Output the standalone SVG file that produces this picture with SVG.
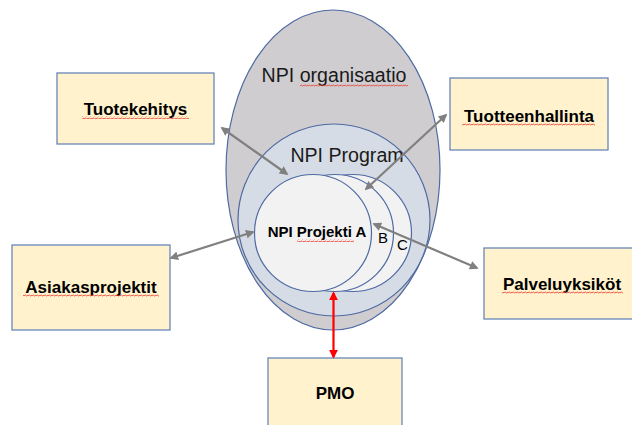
<svg xmlns="http://www.w3.org/2000/svg" width="632" height="425" viewBox="0 0 632 425">
  <defs>
    <style>
      .box { fill: #fff2cc; stroke: #6a86b8; stroke-width: 1.3; }
      .boxlabel { font-family: "Liberation Sans", Arial, sans-serif; font-weight: bold; font-size: 17px; fill: #000; text-anchor: middle; }
      .ring { stroke: #4e6aa3; stroke-width: 1.2; }
      .big { font-family: "Liberation Sans", Arial, sans-serif; font-size: 19.6px; fill: #1a1a1a; text-anchor: middle; }
      .small { font-family: "Liberation Sans", Arial, sans-serif; font-size: 15px; fill: #000; }
      .link { stroke: #808080; stroke-width: 2.2; fill: none; marker-start: url(#ahGray); marker-end: url(#ahGray); }
      .pmo { stroke: #ff0000; stroke-width: 2.2; fill: none; marker-start: url(#ahRed); marker-end: url(#ahRed); }
    </style>
    <marker id="ahGray" viewBox="0 0 10 10" refX="8" refY="5" markerWidth="4.2" markerHeight="4" orient="auto-start-reverse" markerUnits="strokeWidth">
      <path d="M0 0 L10 5 L0 10 z" fill="#808080"/>
    </marker>
    <marker id="ahRed" viewBox="0 0 10 10" refX="8" refY="5" markerWidth="4.2" markerHeight="4" orient="auto-start-reverse" markerUnits="strokeWidth">
      <path d="M0 0 L10 5 L0 10 z" fill="#ff0000"/>
    </marker>
    <!-- spell-check style wavy underline -->
    <pattern id="squiggle" width="4" height="3" patternUnits="userSpaceOnUse">
      <path d="M0 2.2 L1 0.8 L3 2.2 L4 0.8" fill="none" stroke="#e8453c" stroke-width="0.8"/>
    </pattern>
  </defs>

  <rect width="632" height="425" fill="#ffffff"/>

  <!-- organisation -->
  <g id="organisaatio">
    <ellipse cx="333" cy="170" rx="107" ry="160" fill="#d0cdd0" class="ring"/>
    <text class="big" x="334" y="82">NPI organisaatio</text>
    <rect x="300" y="84" width="108" height="3" fill="url(#squiggle)"/>
  </g>

  <!-- program -->
  <g id="program">
    <circle cx="334" cy="220" r="96" fill="#d6dce5" class="ring"/>
    <text class="big" x="347" y="162">NPI Program</text>
  </g>

  <!-- projects C, B, A -->
  <g id="projekti-c">
    <circle cx="353" cy="233" r="58.5" fill="#f2f2f2" class="ring"/>
    <text class="small" x="397" y="250">C</text>
  </g>
  <g id="projekti-b">
    <circle cx="335" cy="233" r="58.5" fill="#f2f2f2" class="ring"/>
    <text class="small" x="378" y="243">B</text>
  </g>
  <g id="projekti-a">
    <circle cx="313" cy="233" r="58.5" fill="#f2f2f2" class="ring"/>
    <text class="small" x="317" y="237" font-weight="bold" text-anchor="middle" font-size="14.5px">NPI Projekti A</text>
    <rect x="297" y="239" width="57" height="3" fill="url(#squiggle)"/>
  </g>

  <!-- surrounding units -->
  <g id="tuotekehitys">
    <rect class="box" x="57" y="73" width="157" height="71"/>
    <text class="boxlabel" x="135.5" y="115">Tuotekehitys</text>
    <rect x="82" y="116" width="107" height="3" fill="url(#squiggle)"/>
  </g>
  <g id="tuotteenhallinta">
    <rect class="box" x="450" y="78" width="158" height="72"/>
    <text class="boxlabel" x="529" y="122">Tuotteenhallinta</text>
    <rect x="462" y="123" width="133" height="3" fill="url(#squiggle)"/>
  </g>
  <g id="asiakasprojektit">
    <rect class="box" x="12" y="245" width="158" height="85"/>
    <text class="boxlabel" x="91" y="293">Asiakasprojektit</text>
    <rect x="23" y="294" width="136" height="3" fill="url(#squiggle)"/>
  </g>
  <g id="palveluyksikot">
    <rect class="box" x="484" y="248" width="150" height="71"/>
    <text class="boxlabel" x="562" y="290">Palveluyksiköt</text>
    <rect x="502" y="291" width="121" height="3" fill="url(#squiggle)"/>
  </g>
  <g id="pmo">
    <rect class="box" x="268" y="358" width="134" height="70"/>
    <text class="boxlabel" x="335" y="399">PMO</text>
  </g>

  <!-- connectors -->
  <g id="connectors">
    <line class="link" x1="222" y1="128" x2="287" y2="174"/>
    <line class="link" x1="446" y1="115" x2="366" y2="189"/>
    <line class="link" x1="171" y1="258" x2="253" y2="232"/>
    <line class="link" x1="477" y1="268" x2="374" y2="224"/>
    <line class="pmo" x1="333.5" y1="293" x2="333.5" y2="357"/>
  </g>
</svg>
